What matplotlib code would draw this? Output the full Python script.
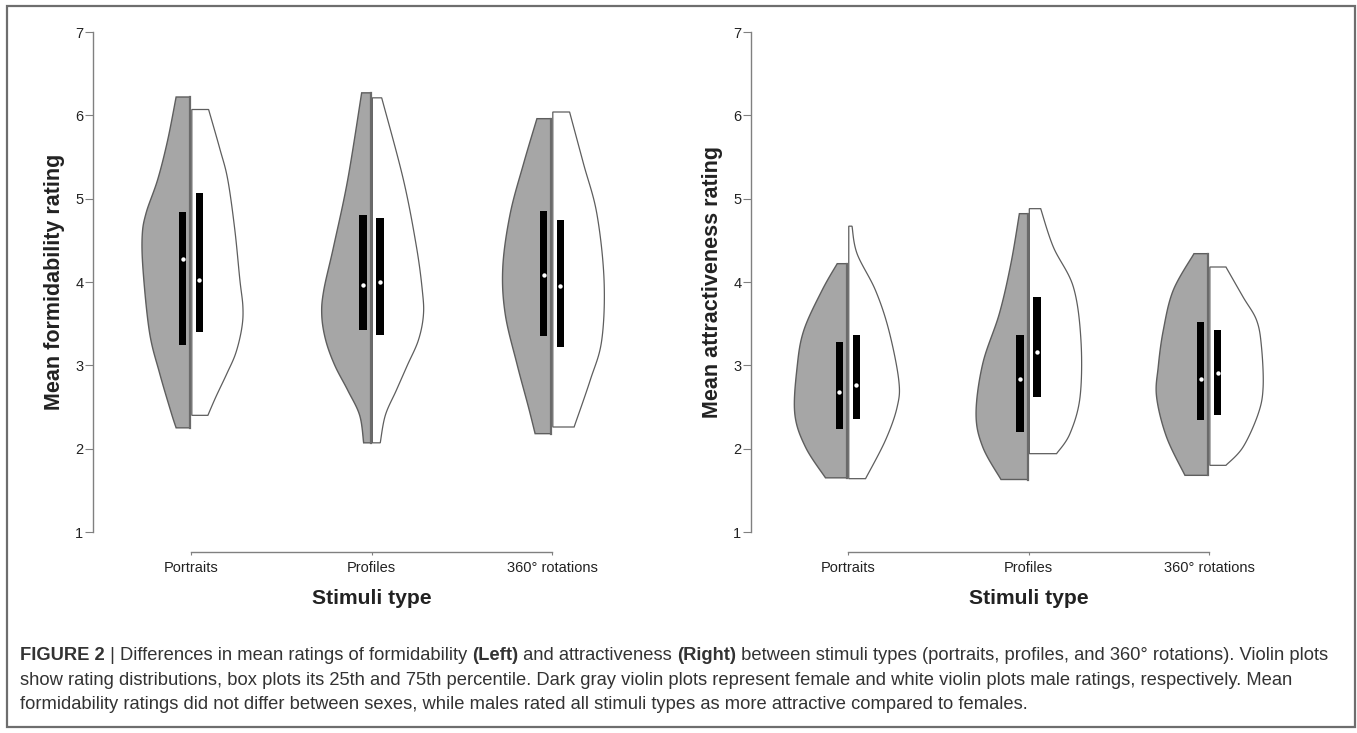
import matplotlib
matplotlib.use("Agg")
import matplotlib.pyplot as plt
import numpy as np
from matplotlib.patches import Polygon, Rectangle
from matplotlib import font_manager

# ---------------- data ----------------
categories = ["Portraits", "Profiles", "360° rotations"]

# Formidability (left panel): violin outlines as (rating, half-width in category units)
form_f_v = [[6.22, 5.70, 5.23, 4.83, 4.55, 4.11, 3.39, 2.91, 2.43, 2.25],
            [6.27, 5.23, 4.43, 3.90, 3.60, 3.30, 3.00, 2.70, 2.40, 2.07],
            [5.96, 5.42, 4.82, 4.18, 3.62, 3.02, 2.50, 2.18]]
form_f_w = [[0.078, 0.125, 0.180, 0.244, 0.266, 0.260, 0.225, 0.170, 0.105, 0.078],
            [0.050, 0.127, 0.205, 0.260, 0.271, 0.249, 0.199, 0.127, 0.061, 0.039],
            [0.079, 0.153, 0.227, 0.268, 0.255, 0.190, 0.126, 0.089]]
form_m_v = [[6.07, 5.60, 5.23, 4.63, 4.03, 3.70, 3.45, 3.15, 2.90, 2.62, 2.40],
            [6.21, 5.23, 4.43, 3.90, 3.60, 3.30, 3.00, 2.70, 2.40, 2.07],
            [6.04, 5.42, 4.82, 4.02, 3.30, 2.82, 2.26]]
form_m_w = [[0.093, 0.155, 0.199, 0.238, 0.266, 0.283, 0.277, 0.244, 0.194, 0.133, 0.089],
            [0.052, 0.172, 0.244, 0.277, 0.283, 0.255, 0.194, 0.133, 0.072, 0.044],
            [0.093, 0.170, 0.244, 0.284, 0.271, 0.207, 0.118]]
form_f_q1 = [3.24, 3.43, 3.35]
form_f_q3 = [4.84, 4.80, 4.85]
form_f_med = [4.28, 3.97, 4.08]
form_m_q1 = [3.40, 3.36, 3.22]
form_m_q3 = [5.07, 4.77, 4.74]
form_m_med = [4.03, 4.00, 3.95]

# Attractiveness (right panel)
attr_f_v = [[4.22, 3.90, 3.42, 2.98, 2.42, 2.02, 1.65],
            [4.82, 4.22, 3.62, 3.02, 2.42, 2.02, 1.63],
            [4.34, 3.90, 3.42, 2.98, 2.62, 2.14, 1.68]]
attr_f_w = [[0.055, 0.139, 0.240, 0.277, 0.290, 0.231, 0.120],
            [0.046, 0.093, 0.157, 0.249, 0.286, 0.249, 0.148],
            [0.079, 0.194, 0.249, 0.277, 0.286, 0.231, 0.129]]
attr_m_v = [[4.67, 4.34, 3.90, 3.42, 2.82, 2.50, 2.10, 1.64],
            [4.88, 4.42, 3.94, 3.30, 2.62, 2.18, 1.94],
            [4.18, 3.82, 3.54, 3.22, 2.74, 2.42, 2.02, 1.80]]
attr_m_w = [[0.018, 0.046, 0.148, 0.222, 0.277, 0.268, 0.203, 0.093],
            [0.063, 0.133, 0.244, 0.286, 0.281, 0.225, 0.151],
            [0.089, 0.184, 0.259, 0.286, 0.295, 0.268, 0.184, 0.089]]
attr_f_q1 = [2.24, 2.20, 2.34]
attr_f_q3 = [3.28, 3.37, 3.52]
attr_f_med = [2.68, 2.84, 2.84]
attr_m_q1 = [2.36, 2.62, 2.40]
attr_m_q3 = [3.37, 3.82, 3.42]
attr_m_med = [2.76, 3.16, 2.91]

yticks = [1, 2, 3, 4, 5, 6, 7]

caption_lines = [
    [("FIGURE 2", "bold"), (" | ", "normal"), ("Differences in mean ratings of formidability ", "normal"),
     ("(Left)", "bold"), (" and attractiveness ", "normal"), ("(Right)", "bold"),
     (" between stimuli types (portraits, profiles, and 360° rotations). Violin plots", "normal")],
    [("show rating distributions, box plots its 25th and 75th percentile. Dark gray violin plots represent "
      "female and white violin plots male ratings, respectively. Mean", "normal")],
    [("formidability ratings did not differ between sexes, while males rated all stimuli types as more "
      "attractive compared to females.", "normal")],
]

# ---------------- style ----------------
W, H = 1357, 733
plt.rcParams['font.family'] = ['Liberation Sans', 'DejaVu Sans']
fig = plt.figure(figsize=(W / 100, H / 100), dpi=100)

GRAY_FILL = '#a6a6a6'
EDGE = '#5e5e5e'
AXCOL = '#808080'
TXT = '#222222'


def px_axes(l, t, r, b):
    return fig.add_axes([l / W, 1 - b / H, (r - l) / W, (b - t) / H])


def smooth(v, w, n=14):
    P = np.column_stack([v, w]).astype(float)
    P = np.vstack([P[0], P, P[-1]])
    out = []
    t = np.linspace(0, 1, n, endpoint=False)[:, None]
    for i in range(1, len(P) - 2):
        p0, p1, p2, p3 = P[i - 1], P[i], P[i + 1], P[i + 2]
        out.append(0.5 * ((2 * p1) + (-p0 + p2) * t + (2 * p0 - 5 * p1 + 4 * p2 - p3) * t ** 2
                          + (-p0 + 3 * p1 - 3 * p2 + p3) * t ** 3))
    out.append(P[-2][None])
    S = np.vstack(out)
    return S[:, 0], S[:, 1]


def draw_panel(ax, fv, fw, mv, mw, fq1, fq3, fmed, mq1, mq3, mmed, ylabel, xlim):
    gap = 0.0045
    off = 0.047
    bw = 0.039
    for i in range(len(categories)):
        sv, sw = smooth(fv[i], fw[i])
        verts = [(i - gap, sv[0])] + list(zip(i - gap - sw, sv)) + [(i - gap, sv[-1])]
        ax.add_patch(Polygon(verts, closed=True, fc=GRAY_FILL, ec=EDGE, lw=1.0, zorder=2))
        ax.plot([i - gap, i - gap], [sv[0], sv[-1]], color='#6a6a6a', lw=1.6, zorder=2.5)
        sv, sw = smooth(mv[i], mw[i])
        verts = [(i + gap, sv[0])] + list(zip(i + gap + sw, sv)) + [(i + gap, sv[-1])]
        ax.add_patch(Polygon(verts, closed=True, fc='white', ec=EDGE, lw=0.9, zorder=2))
    x = np.arange(len(categories))
    ax.bar(x - off, np.array(fq3) - np.array(fq1), bottom=fq1, width=bw, color='black', zorder=3)
    ax.bar(x + off, np.array(mq3) - np.array(mq1), bottom=mq1, width=bw, color='black', zorder=3)
    ax.scatter(x - off, fmed, s=10, color='white', zorder=4, linewidths=0)
    ax.scatter(x + off, mmed, s=10, color='white', zorder=4, linewidths=0)

    ax.set_xlim(*xlim)
    ax.set_ylim(0.76, 7.0)
    for s in ['top', 'right']:
        ax.spines[s].set_visible(False)
    ax.spines['left'].set_bounds(1, 7)
    ax.spines['bottom'].set_bounds(0, 2)
    for s in ['left', 'bottom']:
        ax.spines[s].set_color(AXCOL)
        ax.spines[s].set_linewidth(1.0)
    ax.set_yticks(yticks)
    ax.set_yticklabels([str(t) for t in yticks])
    ax.set_xticks(x)
    ax.set_xticklabels(categories)
    ax.tick_params(axis='y', direction='out', length=5.5, width=0.8, color=AXCOL, pad=1.5,
                   labelsize=10.5, labelcolor=TXT)
    ax.tick_params(axis='x', direction='out', length=2.5, width=0.8, color=AXCOL, pad=4,
                   labelsize=10.5, labelcolor=TXT)
    ax.set_ylabel(ylabel, fontsize=15.5, fontweight='bold', color=TXT)
    ax.yaxis.set_label_coords(-0.050, 0.52)
    ax.set_xlabel("Stimuli type", fontsize=15.2, fontweight='bold', color=TXT)
    ax.xaxis.set_label_coords(0.5, -0.0715)
    ax.patch.set_alpha(0)


axL = px_axes(93, 32, 650, 552)
axR = px_axes(751, 32, 1306, 552)
draw_panel(axL, form_f_v, form_f_w, form_m_v, form_m_w, form_f_q1, form_f_q3, form_f_med,
           form_m_q1, form_m_q3, form_m_med, "Mean formidability rating", (-0.543, 2.543))
draw_panel(axR, attr_f_v, attr_f_w, attr_m_v, attr_m_w, attr_f_q1, attr_f_q3, attr_f_med,
           attr_m_q1, attr_m_q3, attr_m_med, "Mean attractiveness rating", (-0.537, 2.537))

# frame
fig.add_artist(Rectangle((7 / W, 1 - 727 / H), (1355 - 7) / W, (727 - 6) / H, transform=fig.transFigure,
                         fill=False, ec='#6e6e6e', lw=1.6))

# caption
try:
    font_manager.findfont('Liberation Sans Narrow', fallback_to_default=False)
    cap_family = ['Liberation Sans Narrow', 'DejaVu Sans']
except Exception:
    cap_family = ['Liberation Sans', 'DejaVu Sans']

renderer = fig.canvas.get_renderer()


def draw_runs(runs, x0_px, y_px, size):
    x = x0_px
    arts = []
    for txt, wt in runs:
        weight = 'bold' if wt == 'bold' else 'normal'
        t = fig.text(x / W, 1 - y_px / H, txt, fontsize=size, fontweight=weight, family=cap_family,
                     color='#333333', ha='left', va='baseline')
        bb = t.get_window_extent(renderer)
        x += bb.width
        arts.append(t)
    return x, arts


# fit size so that line 1 spans the measured width
target = 1335 - 20
size = 12.0
endx, arts = draw_runs(caption_lines[0], 20, 660, size)
for a in arts:
    a.remove()
size = size * target / (endx - 20)
for line, ypx in zip(caption_lines, [660, 685, 709]):
    draw_runs(line, 20, ypx, size)

fig.savefig("out.png", dpi=100)
